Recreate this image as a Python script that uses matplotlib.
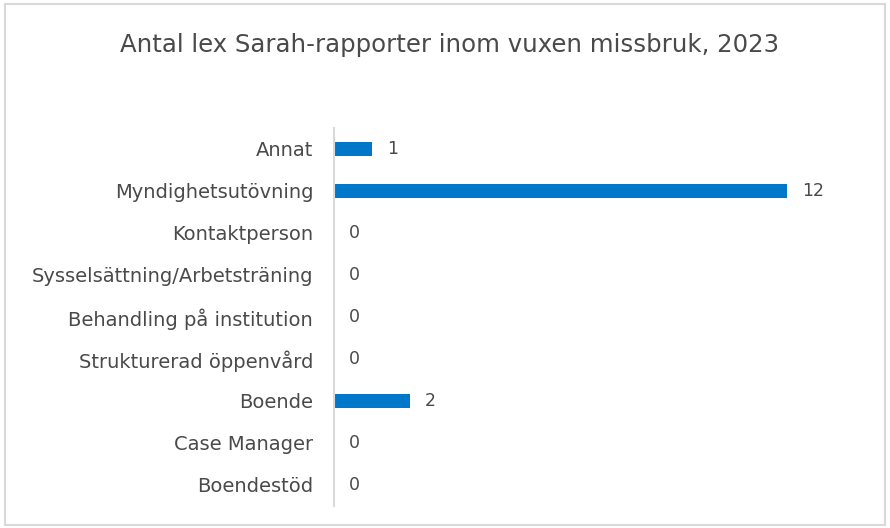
import matplotlib.pyplot as plt
from matplotlib.patches import Rectangle

# data
categories = ['Annat', 'Myndighetsutövning', 'Kontaktperson',
              'Sysselsättning/Arbetsträning', 'Behandling på institution',
              'Strukturerad öppenvård', 'Boende', 'Case Manager', 'Boendestöd']
values = [1, 12, 0, 0, 0, 0, 2, 0, 0]

plt.rcParams['font.family'] = ['DejaVu Sans']
text_col = '#4a4a4a'

fig = plt.figure(figsize=(8.9, 5.28), dpi=100)
ax = fig.add_axes([334 / 890, 1 - 506 / 528, 526 / 890, 378 / 528])

y = list(range(len(categories)))
ax.barh(y, values, height=0.35, color='#0077C8')
ax.set_ylim(len(categories) - 0.5, -0.5)
ax.set_xlim(0, 13.93)

for yi, v in zip(y, values):
    ax.annotate(str(v), (v, yi), xytext=(11, 0), textcoords='offset points',
                va='center', ha='left', fontsize=12.5, color=text_col)

ax.set_yticks(y)
ax.set_yticklabels(categories, fontsize=14, color=text_col)
ax.tick_params(axis='y', length=0, pad=15)
ax.set_xticks([])
for s in ['top', 'right', 'bottom']:
    ax.spines[s].set_visible(False)
ax.spines['left'].set_color('#d9d9d9')
ax.spines['left'].set_linewidth(1.5)

fig.text(450 / 890, 1 - 45 / 528, 'Antal lex Sarah-rapporter inom vuxen missbruk, 2023',
         ha='center', va='center', fontsize=17.6, color=text_col)

# light grey frame around the chart area
fig.patches.append(Rectangle((5 / 890, 3 / 528), 880 / 890, 521 / 528,
                             transform=fig.transFigure, fill=False,
                             edgecolor='#d9d9d9', linewidth=1.5))

fig.savefig('out.png', dpi=100)
